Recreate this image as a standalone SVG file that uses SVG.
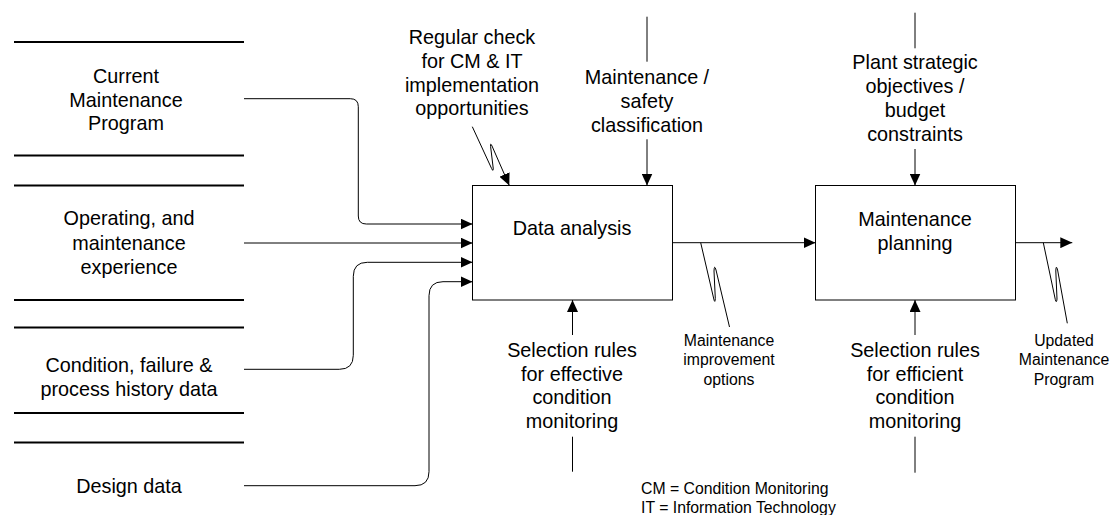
<svg xmlns="http://www.w3.org/2000/svg" width="1113" height="515" viewBox="0 0 1113 515">
<style>
text{font-family:"Liberation Sans",Arial,sans-serif;fill:#000;text-anchor:middle}
.big{font-size:19.8px}
.sm{font-size:15.8px}
.store{stroke:#000;stroke-width:2;fill:none}
.box{fill:#fff;stroke:#000;stroke-width:1}
.ln{fill:none;stroke:#000;stroke-width:1}
</style>
<defs>
<marker id="ah" viewBox="0 0 12 11" refX="12" refY="5.5" markerWidth="12" markerHeight="11" markerUnits="userSpaceOnUse" orient="auto">
<path d="M0,0 L12,5.5 L0,11 Z" fill="#000"/>
</marker>
</defs>
<rect width="1113" height="515" fill="#fff"/>

<g id="store-current">
<line class="store" x1="14" y1="42" x2="244" y2="42"/>
<line class="store" x1="14" y1="155.5" x2="244" y2="155.5"/>
<text class="big" x="126" y="83">Current</text>
<text class="big" x="126" y="106.5">Maintenance</text>
<text class="big" x="126" y="130">Program</text>
</g>
<g id="store-operating">
<line class="store" x1="14" y1="185.5" x2="244" y2="185.5"/>
<line class="store" x1="14" y1="300" x2="244" y2="300"/>
<text class="big" x="129" y="225">Operating, and</text>
<text class="big" x="129" y="249.5">maintenance</text>
<text class="big" x="129" y="274">experience</text>
</g>
<g id="store-condition">
<line class="store" x1="14" y1="327.5" x2="244" y2="327.5"/>
<line class="store" x1="14" y1="413" x2="244" y2="413"/>
<text class="big" x="129" y="372">Condition, failure &amp;</text>
<text class="big" x="129" y="396">process history data</text>
</g>
<g id="store-design">
<line class="store" x1="14" y1="442.5" x2="244" y2="442.5"/>
<text class="big" x="129" y="492.5">Design data</text>
</g>

<g id="data-analysis">
<rect class="box" x="472.5" y="185.5" width="200" height="114.5"/>
<text class="big" x="572" y="235">Data analysis</text>
</g>
<g id="maintenance-planning">
<rect class="box" x="815.5" y="185.5" width="200" height="114.5"/>
<text class="big" x="915" y="226">Maintenance</text>
<text class="big" x="915" y="250">planning</text>
</g>

<g id="label-regular">
<text class="big" x="472" y="44">Regular check</text>
<text class="big" x="472" y="68">for CM &amp; IT</text>
<text class="big" x="472" y="91.5">implementation</text>
<text class="big" x="472" y="115">opportunities</text>
</g>
<g id="label-safety">
<text class="big" x="647" y="84">Maintenance /</text>
<text class="big" x="647" y="108">safety</text>
<text class="big" x="647" y="132">classification</text>
</g>
<g id="label-plant">
<text class="big" x="915" y="69">Plant strategic</text>
<text class="big" x="915" y="93">objectives /</text>
<text class="big" x="915" y="117">budget</text>
<text class="big" x="915" y="141">constraints</text>
</g>
<g id="label-effective">
<text class="big" x="572" y="357">Selection rules</text>
<text class="big" x="572" y="380.5">for effective</text>
<text class="big" x="572" y="404">condition</text>
<text class="big" x="572" y="427.5">monitoring</text>
</g>
<g id="label-efficient">
<text class="big" x="915" y="357">Selection rules</text>
<text class="big" x="915" y="380.5">for efficient</text>
<text class="big" x="915" y="404">condition</text>
<text class="big" x="915" y="427.5">monitoring</text>
</g>
<g id="label-improvement">
<text class="sm" x="729" y="345.5">Maintenance</text>
<text class="sm" x="729" y="365">improvement</text>
<text class="sm" x="729" y="384.5">options</text>
</g>
<g id="label-updated">
<text class="sm" x="1064" y="345.5">Updated</text>
<text class="sm" x="1064" y="365">Maintenance</text>
<text class="sm" x="1064" y="384.5">Program</text>
</g>
<g id="legend">
<text class="sm" x="641" y="494" style="text-anchor:start">CM = Condition Monitoring</text>
<text class="sm" x="641" y="512.5" style="text-anchor:start">IT = Information Technology</text>
</g>

<g id="connectors">
<path class="ln" d="M244,98.7 H350.3 Q358.3,98.7 358.3,106.7 V216 Q358.3,224 366.3,224 H472.5" marker-end="url(#ah)"/>
<path class="ln" d="M244,243 H472.5" marker-end="url(#ah)"/>
<path class="ln" d="M244,369.3 H339.3 Q353.3,369.3 353.3,355.3 V276.3 Q353.3,262.3 367.3,262.3 H472.5" marker-end="url(#ah)"/>
<path class="ln" d="M244,485.7 H415 Q429,485.7 429,471.7 V295.7 Q429,281.7 443,281.7 H472.5" marker-end="url(#ah)"/>
<path class="ln" d="M472.3,126.7 L491.6,168.5 Q493.5,172.5 493.2,168 L490.6,146.5 Q490.2,142 492,146 L509.3,185.5" marker-end="url(#ah)"/>
<path class="ln" d="M647,16.7 V61.7"/>
<path class="ln" d="M647,139.3 V185.5" marker-end="url(#ah)"/>
<path class="ln" d="M915,12.7 V48.3"/>
<path class="ln" d="M915,149 V185.5" marker-end="url(#ah)"/>
<path class="ln" d="M572.5,335 V300" marker-end="url(#ah)"/>
<path class="ln" d="M572.5,436.7 V471.7"/>
<path class="ln" d="M915,335 V300" marker-end="url(#ah)"/>
<path class="ln" d="M915,436.7 V472.7"/>
<path class="ln" d="M672.5,242.7 H815.5" marker-end="url(#ah)"/>
<path class="ln" d="M700.7,242.7 L713.8,299 Q715,304 715.3,298.5 L714,271 Q714.3,264 716,270 L729.5,327"/>
<path class="ln" d="M1015.5,242.7 H1072.3" marker-end="url(#ah)"/>
<path class="ln" d="M1043.3,242.7 L1055.3,299.5 Q1056.5,304 1057,299 L1055.8,271 Q1056,264 1057.6,270 L1067.3,323.3"/>
</g>
</svg>
